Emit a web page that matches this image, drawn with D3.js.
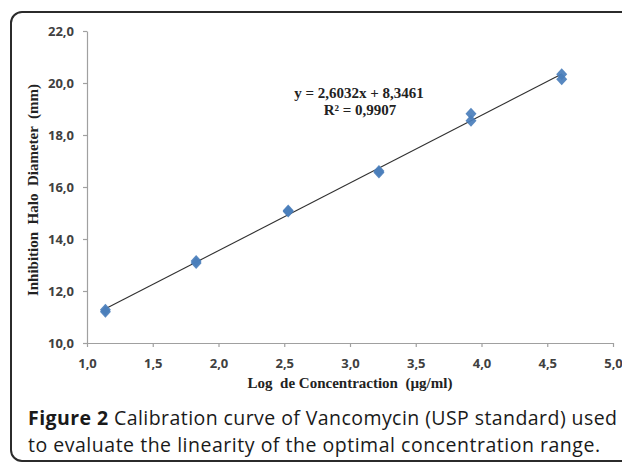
<!DOCTYPE html>
<html>
<head>
<meta charset="utf-8">
<script src="https://cdn.jsdelivr.net/npm/d3@7"></script>
<style>
  body { margin: 0; background: #fff; }
  svg { display: block; }
</style>
</head>
<body>
<div class="canvas"></div>
<script>
// data
const logConc = [1.14, 1.14, 1.83, 1.83, 2.53, 2.53, 3.22, 3.22, 3.92, 3.92, 4.61, 4.61];
const haloDiam = [11.20, 11.28, 13.08, 13.15, 15.06, 15.10, 16.56, 16.62, 18.55, 18.82, 20.14, 20.34];
const xTicks = [1.0, 1.5, 2.0, 2.5, 3.0, 3.5, 4.0, 4.5, 5.0];
const yTicks = [10, 12, 14, 16, 18, 20, 22];
const fit = { slope: 2.6032, intercept: 8.3461, r2: 0.9907 };

const w = 622;
const h = 463;

const svg = d3.select(".canvas").append("svg").attr("width", w).attr("height", h);

// frame round the figure
svg.append("rect")
  .attr("x", 11).attr("y", 12)
  .attr("width", 650).attr("height", 449)
  .attr("rx", 11)
  .attr("fill", "none")
  .attr("stroke", "#2b2b2b")
  .attr("stroke-width", 2);

const x = d3.scaleLinear().domain([1, 5]).range([87, 613]);
const y = d3.scaleLinear().domain([10, 22]).range([343, 31]);

const fmt = (d) => d3.format(".1f")(d).replace(".", ",");

const xAxis = d3.axisBottom(x).tickValues(xTicks).tickSize(4).tickSizeOuter(0).tickFormat(fmt);
const yAxis = d3.axisLeft(y).tickValues(yTicks).tickSize(4).tickSizeOuter(0).tickFormat(fmt);

const gx = svg.append("g").attr("transform", `translate(0, ${y(10)})`).call(xAxis);
const gy = svg.append("g").attr("transform", `translate(${x(1)}, 0)`).call(yAxis);

[gx, gy].forEach((g) => {
  g.select(".domain").attr("stroke", "#a0a0a0").attr("stroke-width", 1.2);
  g.selectAll(".tick line").attr("stroke", "#a0a0a0").attr("stroke-width", 1.2);
  g.selectAll(".tick text")
    .attr("fill", "#404040")
    .style("font-family", "'Open Sans', sans-serif")
    .style("font-weight", "bold")
    .style("font-size", "13px");
});
gx.selectAll(".tick text").attr("y", 25).attr("dy", 0);
gy.selectAll(".tick text").attr("x", -13);

// trend line
const x0 = d3.min(logConc);
const x1 = d3.max(logConc);
svg.append("line")
  .attr("x1", x(x0)).attr("y1", y(fit.slope * x0 + fit.intercept))
  .attr("x2", x(x1)).attr("y2", y(fit.slope * x1 + fit.intercept))
  .attr("stroke", "#303030")
  .attr("stroke-width", 1.1);

// diamonds
const diamond = (cx, cy) => `M${cx},${cy - 6}L${cx + 5.5},${cy}L${cx},${cy + 6}L${cx - 5.5},${cy}Z`;
svg.append("g")
  .selectAll("path")
  .data(logConc.map((d, i) => [d, haloDiam[i]]))
  .enter()
  .append("path")
  .attr("d", (d) => diamond(x(d[0]), y(d[1])))
  .attr("fill", "#4a7ebb")
  .attr("fill-opacity", 0.92);

// equation label
const serif = "'Liberation Serif', 'Times New Roman', serif";
const comma = (v) => String(v).replace(".", ",");
svg.append("text")
  .attr("x", 359).attr("y", 98)
  .attr("text-anchor", "middle")
  .style("font-family", serif).style("font-weight", "bold").style("font-size", "15px")
  .attr("fill", "#222")
  .text(`y = ${comma(fit.slope)}x + ${comma(fit.intercept)}`);
svg.append("text")
  .attr("x", 360).attr("y", 115)
  .attr("text-anchor", "middle")
  .style("font-family", serif).style("font-weight", "bold").style("font-size", "15px")
  .attr("fill", "#222")
  .text(`R² = ${comma(fit.r2)}`);

// axis titles
svg.append("text")
  .attr("x", 350).attr("y", 388)
  .attr("text-anchor", "middle")
  .style("font-family", serif).style("font-weight", "bold").style("font-size", "15px")
  .style("white-space", "pre")
  .attr("fill", "#222")
  .text("Log  de Concentraction  (µg/ml)");
svg.append("text")
  .attr("transform", "translate(38, 190) rotate(-90)")
  .attr("text-anchor", "middle")
  .style("font-family", serif).style("font-weight", "bold").style("font-size", "15px")
  .style("white-space", "pre")
  .attr("fill", "#222")
  .text("Inhibition  Halo  Diameter  (mm)");

// caption
const cap = svg.append("g")
  .style("font-family", "'Open Sans', sans-serif")
  .style("font-size", "19.5px")
  .attr("fill", "#1a1a1a");
const l1 = cap.append("text").attr("x", 28).attr("y", 425)
  .attr("textLength", 589).attr("lengthAdjust", "spacing");
l1.append("tspan").style("font-weight", "bold").text("Figure 2");
l1.append("tspan").text(" Calibration curve of Vancomycin (USP standard) used");
cap.append("text").attr("x", 28).attr("y", 452)
  .attr("textLength", 572).attr("lengthAdjust", "spacing")
  .text("to evaluate the linearity of the optimal concentration range.");
</script>
</body>
</html>
